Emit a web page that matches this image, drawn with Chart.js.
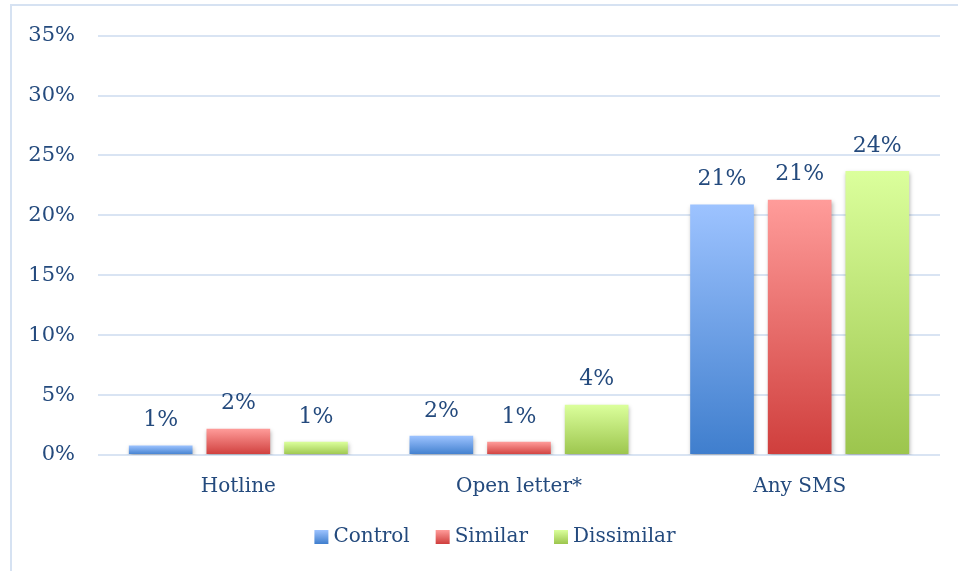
<!DOCTYPE html>
<html>
<head>
<meta charset="utf-8">
<script src="https://cdn.jsdelivr.net/npm/chart.js@4/dist/chart.umd.min.js"></script>
<style>
  html, body { margin: 0; padding: 0; background: #fff; overflow: hidden; }
  #frame { position: absolute; left: 10px; top: 4px; width: 1000px; height: 600px;
           border-left: 2px solid #d6e2f2; border-top: 2px solid #d6e2f2; }
  #wrap { position: absolute; left: 0; top: 0; width: 958px; height: 571px; }
</style>
</head>
<body>
<div id="frame"></div>
<div id="wrap"><canvas id="c" width="958" height="571"></canvas></div>
<script>
const categories = ['Hotline', 'Open letter*', 'Any SMS'];
const seriesNames = ['Control', 'Similar', 'Dissimilar'];
const controlValues = [0.8, 1.6, 20.9];
const similarValues = [2.2, 1.1, 21.3];
const dissimilarValues = [1.1, 4.2, 23.7];
const yTicks = [0, 5, 10, 15, 20, 25, 30, 35];

const palettes = [
  { top: '#9dc3ff', bottom: '#3f7ecd', mid: '#6d9fe6' },
  { top: '#ff9c9a', bottom: '#cf3e3c', mid: '#e86c6a' },
  { top: '#dbff9c', bottom: '#9cc54d', mid: '#bde274' }
];
const textColor = '#244a7d';
const fontFamily = "'DejaVu Serif', 'Liberation Serif', serif";

function barGradient(idx) {
  return function (ctx) {
    const chart = ctx.chart;
    const p = palettes[idx];
    if (!chart.chartArea || !ctx.parsed || !chart.scales.y) return p.mid;
    const ys = chart.scales.y;
    const top = ys.getPixelForValue(ctx.parsed.y);
    const bot = ys.getPixelForValue(0);
    if (!isFinite(top) || !isFinite(bot) || top === bot) return p.mid;
    const g = chart.ctx.createLinearGradient(0, top, 0, bot);
    g.addColorStop(0, p.top);
    g.addColorStop(1, p.bottom);
    return g;
  };
}

const valueSets = [controlValues, similarValues, dissimilarValues];
const datasets = seriesNames.map((name, i) => ({
  label: name,
  data: valueSets[i],
  backgroundColor: barGradient(i),
  borderWidth: 0,
  categoryPercentage: 0.83,
  barPercentage: 0.82
}));

const shadowPlugin = {
  id: 'shadow',
  beforeDatasetDraw(chart) {
    const c = chart.ctx;
    c.save();
    c.shadowColor = 'rgba(0,0,0,0.28)';
    c.shadowBlur = 4;
    c.shadowOffsetX = 1;
    c.shadowOffsetY = 2;
  },
  afterDatasetDraw(chart) { chart.ctx.restore(); }
};

const labelPlugin = {
  id: 'valueLabels',
  afterDatasetsDraw(chart) {
    const c = chart.ctx;
    c.save();
    c.font = '22px ' + fontFamily;
    c.fillStyle = textColor;
    c.textAlign = 'center';
    c.textBaseline = 'middle';
    chart.data.datasets.forEach((ds, di) => {
      const meta = chart.getDatasetMeta(di);
      meta.data.forEach((bar, i) => {
        c.fillText(Math.round(ds.data[i]) + '%', bar.x, bar.y - 25);
      });
    });
    c.restore();
  }
};

// custom legend: gradient box, small gap, label
const legendPlugin = {
  id: 'customLegend',
  afterDraw(chart) {
    const c = chart.ctx;
    c.save();
    c.font = '20px ' + fontFamily;
    c.textBaseline = 'middle';
    c.textAlign = 'left';
    const box = 14, gapBox = 5, gapItem = 26;
    const widths = seriesNames.map(n => box + gapBox + c.measureText(n).width);
    const total = widths.reduce((a, b) => a + b, 0) + gapItem * (widths.length - 1);
    const centerX = 495;
    const cy = 537;
    let x = centerX - total / 2;
    seriesNames.forEach((n, i) => {
      const p = palettes[i];
      const g = c.createLinearGradient(0, cy - box / 2, 0, cy + box / 2);
      g.addColorStop(0, p.top);
      g.addColorStop(1, p.bottom);
      c.fillStyle = g;
      c.fillRect(x, cy - box / 2, box, box);
      c.fillStyle = textColor;
      c.fillText(n, x + box + gapBox, cy);
      x += widths[i] + gapItem;
    });
    c.restore();
  }
};

new Chart(document.getElementById('c'), {
  type: 'bar',
  data: { labels: categories, datasets },
  plugins: [shadowPlugin, labelPlugin, legendPlugin],
  options: {
    responsive: false,
    animation: false,
    layout: { padding: { left: 0, right: 18, top: 24, bottom: 64 } },
    plugins: {
      tooltip: { enabled: false },
      legend: { display: false }
    },
    scales: {
      x: {
        afterFit(scale) { scale.height = 52; },
        grid: { display: false, drawTicks: false },
        border: { display: false },
        ticks: { color: textColor, font: { family: fontFamily, size: 20 }, padding: 20 }
      },
      y: {
        min: 0,
        max: 35,
        afterFit(scale) { scale.width = 98; },
        afterBuildTicks(scale) { scale.ticks = yTicks.map(v => ({ value: v })); },
        grid: { color: '#d9e4f3', lineWidth: 2, drawTicks: false },
        border: { display: false },
        ticks: {
          color: textColor,
          font: { family: fontFamily, size: 21 },
          padding: 23,
          callback: v => v + '%'
        }
      }
    }
  }
});
</script>
</body>
</html>
